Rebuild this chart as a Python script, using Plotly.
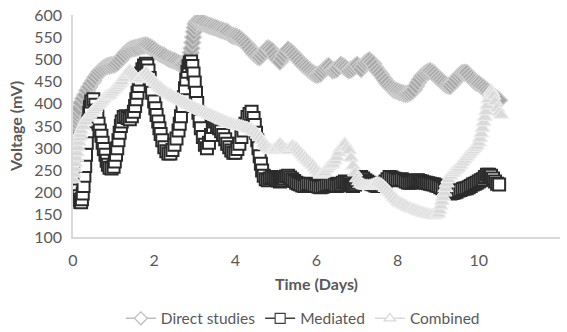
import plotly.graph_objects as go

# ---------------- data : (time in days, voltage in mV) ----------------
direct_pts = [
    (0.00, 338), (0.02, 345), (0.04, 352), (0.06, 360), (0.08, 368), (0.10, 376), (0.12, 383),
    (0.15, 390), (0.20, 402), (0.25, 412), (0.30, 420), (0.35, 430), (0.40, 438), (0.45, 446),
    (0.50, 452), (0.55, 460), (0.60, 466), (0.65, 472), (0.70, 476), (0.75, 480), (0.80, 483),
    (0.85, 485), (0.90, 486), (0.95, 487), (1.00, 488), (1.05, 490), (1.10, 493), (1.15, 498),
    (1.20, 503), (1.25, 509), (1.30, 515), (1.35, 519), (1.40, 522), (1.45, 524), (1.50, 525),
    (1.55, 526), (1.60, 527), (1.65, 529), (1.70, 530), (1.75, 531), (1.80, 532), (1.85, 530),
    (1.90, 528), (1.95, 525), (2.00, 522), (2.05, 518), (2.10, 515), (2.15, 512), (2.20, 510),
    (2.25, 508), (2.30, 505), (2.35, 502), (2.40, 500), (2.45, 498), (2.50, 497), (2.55, 494),
    (2.60, 492), (2.65, 490), (2.70, 490), (2.75, 492), (2.80, 495), (2.85, 502), (2.90, 515),
    (2.92, 525), (2.94, 538), (2.96, 550), (2.98, 562), (3.00, 572), (3.02, 580), (3.05, 585),
    (3.10, 586), (3.15, 584), (3.20, 583), (3.25, 580), (3.30, 578), (3.35, 576), (3.40, 575),
    (3.45, 573), (3.50, 572), (3.55, 570), (3.60, 568), (3.65, 566), (3.70, 565), (3.75, 563),
    (3.80, 562), (3.85, 558), (3.90, 555), (3.95, 553), (4.00, 552), (4.05, 550), (4.10, 548),
    (4.15, 544), (4.20, 540), (4.25, 536), (4.30, 532), (4.35, 526), (4.40, 520), (4.45, 514),
    (4.50, 510), (4.55, 506), (4.60, 505), (4.65, 509), (4.70, 515), (4.75, 520), (4.80, 525),
    (4.85, 523), (4.90, 520), (4.95, 512), (5.00, 505), (5.05, 500), (5.10, 495), (5.15, 502),
    (5.20, 510), (5.25, 516), (5.30, 522), (5.35, 518), (5.40, 515), (5.45, 510), (5.50, 505),
    (5.55, 500), (5.60, 495), (5.65, 490), (5.70, 485), (5.75, 482), (5.80, 478), (5.85, 474),
    (5.90, 470), (5.95, 467), (6.00, 465), (6.05, 466), (6.10, 468), (6.15, 473), (6.20, 478),
    (6.25, 482), (6.30, 485), (6.35, 480), (6.40, 475), (6.45, 476), (6.50, 478), (6.55, 483),
    (6.60, 488), (6.65, 485), (6.70, 482), (6.75, 478), (6.80, 475), (6.85, 477), (6.90, 480),
    (6.95, 484), (7.00, 488), (7.05, 483), (7.10, 478), (7.15, 485), (7.20, 492), (7.25, 495),
    (7.30, 498), (7.35, 494), (7.40, 490), (7.45, 482), (7.50, 475), (7.55, 470), (7.60, 465),
    (7.65, 458), (7.70, 452), (7.75, 446), (7.80, 440), (7.85, 436), (7.90, 432), (7.95, 430),
    (8.00, 428), (8.05, 426), (8.10, 425), (8.15, 423), (8.20, 422), (8.25, 423), (8.30, 425),
    (8.35, 428), (8.40, 432), (8.45, 440), (8.50, 448), (8.55, 455), (8.60, 462), (8.65, 466),
    (8.70, 470), (8.75, 472), (8.80, 474), (8.85, 471), (8.90, 468), (8.95, 463), (9.00, 458),
    (9.05, 454), (9.10, 450), (9.15, 446), (9.20, 442), (9.25, 441), (9.30, 440), (9.35, 445),
    (9.40, 450), (9.45, 456), (9.50, 462), (9.55, 466), (9.60, 470), (9.65, 470), (9.70, 470),
    (9.75, 465), (9.80, 460), (9.85, 455), (9.90, 450), (9.95, 447), (10.00, 445), (10.05, 441),
    (10.10, 438), (10.15, 434), (10.20, 430), (10.25, 426), (10.30, 422), (10.35, 418),
    (10.40, 415), (10.45, 411), (10.50, 408),
]

mediated_pts = [
    (0.00, 320), (0.02, 305), (0.04, 285), (0.06, 262), (0.08, 240), (0.10, 222), (0.12, 205),
    (0.14, 192), (0.16, 184), (0.18, 179), (0.20, 178), (0.22, 185), (0.24, 198), (0.26, 215),
    (0.28, 238), (0.30, 260), (0.32, 285), (0.34, 312), (0.36, 338), (0.38, 360), (0.40, 380),
    (0.42, 393), (0.45, 405), (0.50, 410), (0.55, 398), (0.58, 385), (0.60, 372), (0.63, 355),
    (0.66, 340), (0.70, 328), (0.73, 312), (0.76, 298), (0.80, 285), (0.83, 272), (0.86, 263),
    (0.90, 256), (0.95, 254), (1.00, 258), (1.03, 270), (1.06, 285), (1.09, 300), (1.12, 318),
    (1.15, 335), (1.18, 350), (1.20, 360), (1.25, 370), (1.30, 372), (1.35, 368), (1.40, 365),
    (1.45, 372), (1.50, 382), (1.53, 395), (1.56, 410), (1.59, 425), (1.62, 440), (1.65, 455),
    (1.68, 468), (1.71, 478), (1.75, 486), (1.80, 490), (1.83, 486), (1.86, 475), (1.89, 458),
    (1.92, 440), (1.95, 425), (2.00, 405), (2.03, 390), (2.06, 375), (2.10, 360), (2.13, 345),
    (2.16, 332), (2.20, 318), (2.25, 302), (2.30, 293), (2.35, 288), (2.40, 288), (2.45, 296),
    (2.50, 308), (2.55, 322), (2.60, 340), (2.63, 355), (2.66, 372), (2.70, 395), (2.73, 415),
    (2.76, 435), (2.79, 455), (2.82, 472), (2.85, 485), (2.88, 493), (2.91, 495), (2.94, 485),
    (2.97, 468), (3.00, 448), (3.03, 425), (3.06, 402), (3.09, 380), (3.12, 362), (3.15, 345),
    (3.20, 325), (3.25, 308), (3.30, 300), (3.35, 312), (3.40, 330), (3.45, 348), (3.50, 360),
    (3.55, 352), (3.60, 345), (3.65, 338), (3.70, 330), (3.75, 320), (3.80, 310), (3.85, 302),
    (3.90, 295), (3.95, 290), (4.00, 290), (4.05, 298), (4.10, 310), (4.15, 325), (4.20, 340),
    (4.25, 355), (4.30, 370), (4.35, 377), (4.40, 382), (4.45, 368), (4.48, 352), (4.51, 335),
    (4.54, 318), (4.57, 300), (4.60, 282), (4.63, 265), (4.66, 250), (4.70, 238), (4.75, 230),
    (4.80, 228), (4.85, 232), (4.90, 235), (4.95, 233), (5.00, 230), (5.05, 227), (5.10, 225),
    (5.15, 228), (5.20, 232), (5.25, 236), (5.30, 238), (5.35, 234), (5.40, 230), (5.45, 226),
    (5.50, 222), (5.55, 220), (5.60, 218), (5.65, 216), (5.70, 215), (5.75, 218), (5.80, 220),
    (5.85, 219), (5.90, 218), (5.95, 216), (6.00, 215), (6.05, 213), (6.10, 212), (6.15, 213),
    (6.20, 215), (6.25, 217), (6.30, 218), (6.35, 219), (6.40, 220), (6.45, 218), (6.50, 215),
    (6.55, 216), (6.60, 218), (6.65, 222), (6.70, 225), (6.75, 223), (6.80, 222), (6.85, 218),
    (6.90, 215), (6.95, 218), (7.00, 222), (7.05, 228), (7.10, 235), (7.15, 232), (7.20, 228),
    (7.25, 225), (7.30, 222), (7.35, 220), (7.40, 218), (7.45, 216), (7.50, 215), (7.55, 216),
    (7.60, 218), (7.65, 221), (7.70, 225), (7.75, 230), (7.80, 235), (7.85, 234), (7.90, 232),
    (7.95, 230), (8.00, 228), (8.05, 229), (8.10, 230), (8.15, 228), (8.20, 225), (8.25, 223),
    (8.30, 222), (8.35, 223), (8.40, 225), (8.45, 227), (8.50, 228), (8.55, 226), (8.60, 225),
    (8.65, 223), (8.70, 222), (8.75, 221), (8.80, 220), (8.85, 219), (8.90, 218), (8.95, 216),
    (9.00, 215), (9.05, 212), (9.10, 210), (9.15, 206), (9.20, 202), (9.25, 200), (9.30, 198),
    (9.35, 199), (9.40, 200), (9.45, 202), (9.50, 205), (9.55, 206), (9.60, 208), (9.65, 209),
    (9.70, 210), (9.75, 212), (9.80, 215), (9.85, 218), (9.90, 220), (9.95, 222), (10.00, 225),
    (10.05, 228), (10.10, 230), (10.15, 235), (10.20, 240), (10.25, 240), (10.30, 238),
    (10.35, 232), (10.40, 225), (10.45, 220), (10.50, 218),
]

combined_pts = [
    (0.00, 230), (0.02, 242), (0.04, 254), (0.06, 266), (0.08, 278), (0.10, 290), (0.12, 302),
    (0.14, 314), (0.16, 324), (0.18, 332), (0.20, 340), (0.25, 350), (0.30, 360), (0.35, 368),
    (0.40, 375), (0.45, 380), (0.50, 385), (0.55, 390), (0.60, 395), (0.65, 400), (0.70, 405),
    (0.75, 410), (0.80, 415), (0.85, 418), (0.90, 420), (0.95, 425), (1.00, 430), (1.05, 435),
    (1.10, 440), (1.15, 445), (1.20, 450), (1.25, 458), (1.30, 465), (1.35, 470), (1.40, 475),
    (1.45, 470), (1.50, 465), (1.55, 460), (1.60, 455), (1.65, 458), (1.70, 462), (1.75, 466),
    (1.80, 470), (1.85, 465), (1.90, 460), (1.95, 455), (2.00, 450), (2.05, 445), (2.10, 440),
    (2.15, 436), (2.20, 432), (2.25, 428), (2.30, 425), (2.35, 422), (2.40, 420), (2.45, 417),
    (2.50, 415), (2.55, 412), (2.60, 410), (2.65, 407), (2.70, 405), (2.75, 402), (2.80, 400),
    (2.85, 397), (2.90, 395), (2.95, 392), (3.00, 390), (3.05, 388), (3.10, 386), (3.15, 384),
    (3.20, 382), (3.25, 380), (3.30, 378), (3.35, 376), (3.40, 374), (3.45, 372), (3.50, 370),
    (3.55, 368), (3.60, 366), (3.65, 364), (3.70, 362), (3.75, 360), (3.80, 358), (3.85, 356),
    (3.90, 355), (3.95, 353), (4.00, 352), (4.05, 351), (4.10, 350), (4.15, 349), (4.20, 348),
    (4.25, 346), (4.30, 345), (4.35, 343), (4.40, 342), (4.45, 338), (4.50, 335), (4.55, 330),
    (4.60, 325), (4.65, 318), (4.70, 310), (4.75, 305), (4.80, 300), (4.85, 297), (4.90, 295),
    (4.95, 297), (5.00, 300), (5.05, 305), (5.10, 310), (5.15, 305), (5.20, 300), (5.25, 297),
    (5.30, 295), (5.35, 300), (5.40, 305), (5.45, 302), (5.50, 300), (5.55, 295), (5.60, 290),
    (5.65, 285), (5.70, 280), (5.75, 275), (5.80, 270), (5.85, 266), (5.90, 262), (5.95, 256),
    (6.00, 250), (6.05, 245), (6.10, 240), (6.15, 242), (6.20, 245), (6.25, 252), (6.30, 258),
    (6.35, 262), (6.40, 265), (6.45, 272), (6.50, 280), (6.55, 290), (6.60, 300), (6.65, 305),
    (6.70, 310), (6.75, 302), (6.80, 295), (6.85, 278), (6.90, 260), (6.95, 245), (7.00, 232),
    (7.05, 225), (7.10, 220), (7.15, 217), (7.20, 215), (7.25, 215), (7.30, 215), (7.35, 216),
    (7.40, 218), (7.45, 220), (7.50, 222), (7.55, 220), (7.60, 218), (7.65, 214), (7.70, 210),
    (7.75, 205), (7.80, 200), (7.85, 195), (7.90, 190), (7.95, 185), (8.00, 180), (8.05, 177),
    (8.10, 175), (8.15, 172), (8.20, 170), (8.25, 167), (8.30, 165), (8.35, 163), (8.40, 162),
    (8.45, 160), (8.50, 158), (8.55, 156), (8.60, 155), (8.65, 153), (8.70, 152), (8.75, 151),
    (8.80, 150), (8.85, 149), (8.90, 148), (8.95, 150), (9.00, 152), (9.03, 160), (9.06, 170),
    (9.09, 180), (9.12, 190), (9.15, 200), (9.18, 210), (9.21, 220), (9.25, 230), (9.30, 238),
    (9.35, 244), (9.40, 248), (9.45, 252), (9.50, 256), (9.55, 262), (9.60, 268), (9.65, 274),
    (9.70, 280), (9.75, 285), (9.80, 290), (9.85, 295), (9.90, 300), (9.95, 305), (10.00, 312),
    (10.03, 322), (10.06, 333), (10.09, 345), (10.12, 358), (10.15, 370), (10.18, 383),
    (10.21, 396), (10.24, 410), (10.27, 422), (10.30, 430), (10.33, 425), (10.36, 418),
    (10.40, 405), (10.45, 390), (10.50, 380), (10.55, 375),
]

direct_x = [p[0] for p in direct_pts]
direct_y = [p[1] for p in direct_pts]
mediated_x = [p[0] for p in mediated_pts]
mediated_y = [p[1] for p in mediated_pts]
combined_x = [p[0] for p in combined_pts]
combined_y = [p[1] for p in combined_pts]

series_names = ["Direct studies", "Mediated", "Combined"]
x_ticks = [0, 2, 4, 6, 8, 10, 12]
y_ticks = [100, 150, 200, 250, 300, 350, 400, 450, 500, 550, 600]

FONT = "Lato"
TXT = "#595959"

fig = go.Figure()

# plotted series (dense overlapping markers form ribbons)
fig.add_trace(go.Scatter(
    x=direct_x, y=direct_y, mode="lines+markers", name=series_names[0], showlegend=False,
    line=dict(color="#a6a6a6", width=1.5),
    marker=dict(symbol="diamond", size=13, color="#a9a9a9", line=dict(color="#cdcdcd", width=1.2))))
fig.add_trace(go.Scatter(
    x=mediated_x, y=mediated_y, mode="lines+markers", name=series_names[1], showlegend=False,
    line=dict(color="#262626", width=1.5),
    marker=dict(symbol="square", size=12, color="#ffffff", line=dict(color="#2b2b2b", width=2))))
fig.add_trace(go.Scatter(
    x=combined_x, y=combined_y, mode="lines+markers", name=series_names[2], showlegend=False,
    line=dict(color="#d9d9d9", width=1.5),
    marker=dict(symbol="triangle-up", size=13, color="#dadada", line=dict(color="#ebebeb", width=1.2))))

# legend entries
fig.add_trace(go.Scatter(
    x=[None], y=[None], mode="lines+markers", name=series_names[0],
    line=dict(color="#bfbfbf", width=1.5),
    marker=dict(symbol="diamond", size=10, color="#ffffff", line=dict(color="#bfbfbf", width=1.2))))
fig.add_trace(go.Scatter(
    x=[None], y=[None], mode="lines+markers", name=series_names[1],
    line=dict(color="#404040", width=1.5),
    marker=dict(symbol="square", size=10, color="#ffffff", line=dict(color="#404040", width=1.2))))
fig.add_trace(go.Scatter(
    x=[None], y=[None], mode="lines+markers", name=series_names[2],
    line=dict(color="#d9d9d9", width=1.5),
    marker=dict(symbol="triangle-up", size=10, color="#ffffff", line=dict(color="#d9d9d9", width=1.2))))

fig.update_layout(
    width=567, height=332,
    margin=dict(l=73, r=7, t=15, b=95, autoexpand=False),
    paper_bgcolor="white", plot_bgcolor="white",
    font=dict(family=FONT, size=16, color=TXT),
    showlegend=True,
    hovermode=False,
    legend=dict(orientation="h", x=0.472, xanchor="center", yref="container", y=0.04,
                yanchor="middle", font=dict(family=FONT, size=15.5, color=TXT),
                itemwidth=30, tracegroupgap=0),
    xaxis=dict(range=[0, 12], tickvals=x_ticks, showgrid=False, zeroline=False,
               showline=True, linecolor="#d9d9d9", linewidth=1.5, ticks="",
               ticklabelstandoff=8, automargin=False,
               tickfont=dict(family=FONT, size=16, color=TXT),
               title=dict(text="<b>Time (Days)</b>", standoff=11,
                          font=dict(family=FONT, size=16, color=TXT))),
    yaxis=dict(range=[100, 600], tickvals=y_ticks, showgrid=False, zeroline=False,
               showline=True, linecolor="#d9d9d9", linewidth=1.5, ticks="",
               ticklabelstandoff=6, automargin=False,
               tickfont=dict(family=FONT, size=16, color=TXT),
               title=dict(text="<b>Voltage (mV)</b>", standoff=8,
                          font=dict(family=FONT, size=16, color=TXT))),
)

fig.write_html("out.html", config={"displayModeBar": False},
               post_script="document.body.style.margin='0';document.body.style.padding='0';")
